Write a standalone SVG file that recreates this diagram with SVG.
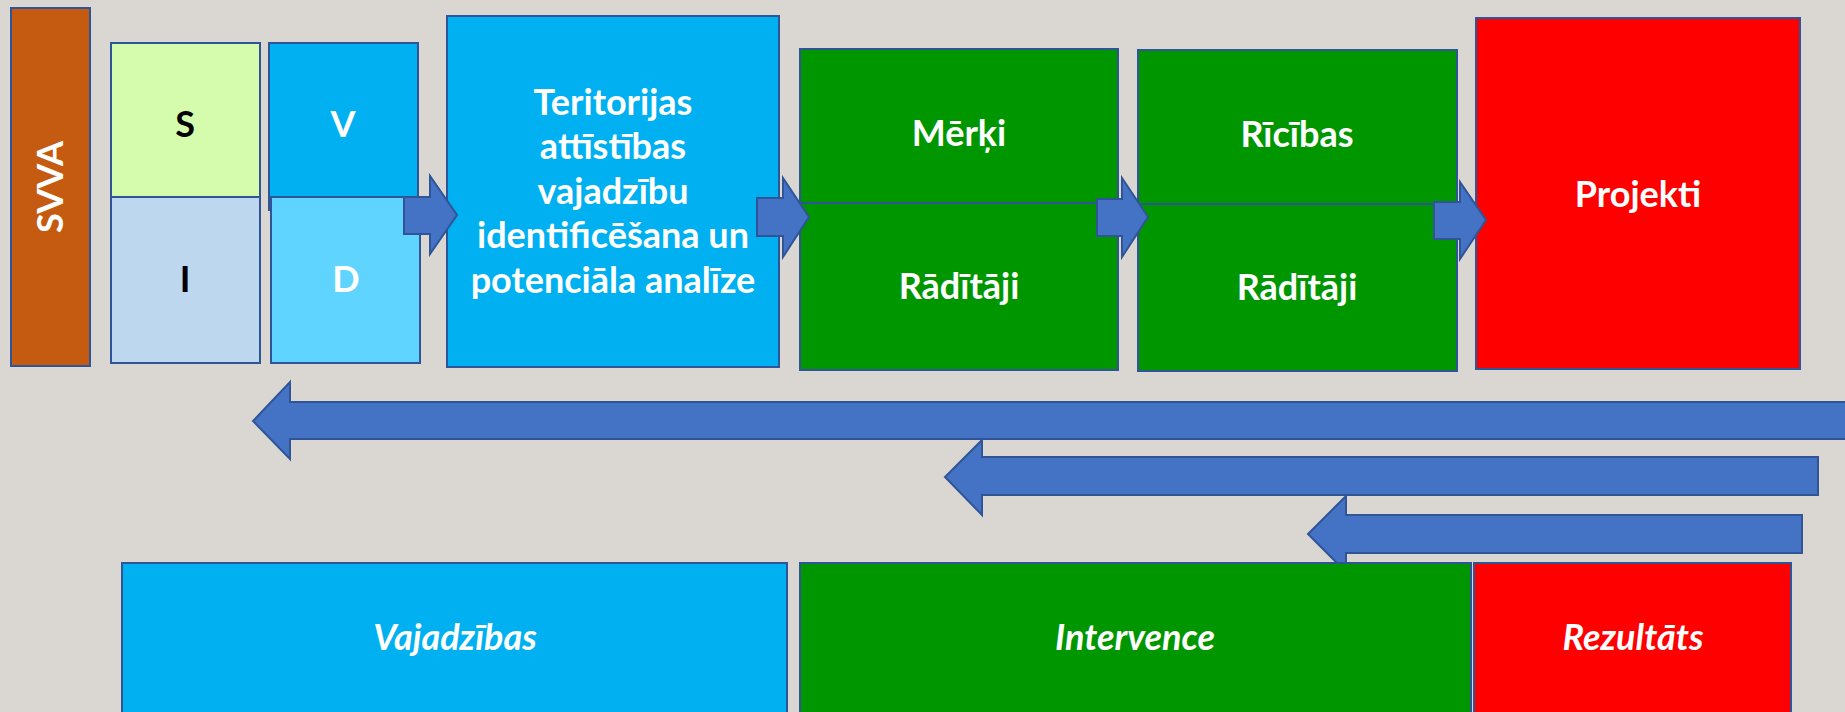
<svg xmlns="http://www.w3.org/2000/svg" width="1845" height="712" viewBox="0 0 1845 712">
<style>
.box{stroke:#2f5597;stroke-width:2}
.t{font-family:Lato,"Open Sans","Liberation Sans",sans-serif;font-weight:bold;font-size:36px;text-anchor:middle;fill:#ffffff}
.k{fill:#000000}
.it{font-style:italic}
.arr{fill:#4472c4;stroke:#2f5597;stroke-width:2;stroke-linejoin:miter}
</style>
<rect x="0" y="0" width="1845" height="712" fill="#dad7d2"/>
<g id="svva">
<rect class="box" x="11" y="8" width="79" height="358" fill="#c55a11"/>
<text class="t" transform="translate(63,187) rotate(-90)">SVVA</text>
</g>
<g id="s">
<rect class="box" x="111" y="43" width="149" height="154" fill="#d4fcac"/>
<text class="t k" x="185" y="137">S</text>
</g>
<g id="i">
<rect class="box" x="111" y="197" width="149" height="166" fill="#bdd7ee"/>
<text class="t k" x="185" y="292">I</text>
</g>
<g id="v">
<rect class="box" x="269" y="43" width="149" height="167" fill="#00b0f0"/>
<text class="t" x="343" y="137">V</text>
</g>
<g id="d">
<rect class="box" x="271" y="197" width="149" height="166" fill="#5fd4ff"/>
<text class="t" x="346" y="292">D</text>
</g>
<g id="teritorijas">
<rect class="box" x="447" y="16" width="332" height="351" fill="#00b0f0"/>
<text class="t" x="613" y="115">Teritorijas</text>
<text class="t" x="613" y="159">attīstības</text>
<text class="t" x="613" y="204">vajadzību</text>
<text class="t" x="613" y="248">identificēšana un</text>
<text class="t" x="613" y="293">potenciāla analīze</text>
</g>
<g id="merki">
<rect class="box" x="800" y="49" width="318" height="154" fill="#009600"/>
<text class="t" x="959" y="146">Mērķi</text>
</g>
<g id="raditaji1">
<rect class="box" x="800" y="203" width="318" height="167" fill="#009600"/>
<text class="t" x="959" y="299">Rādītāji</text>
</g>
<g id="ricibas">
<rect class="box" x="1138" y="50" width="319" height="154" fill="#009600"/>
<text class="t" x="1297" y="147">Rīcības</text>
</g>
<g id="raditaji2">
<rect class="box" x="1138" y="204" width="319" height="167" fill="#009600"/>
<text class="t" x="1297" y="300">Rādītāji</text>
</g>
<g id="projekti">
<rect class="box" x="1476" y="18" width="324" height="351" fill="#ff0000"/>
<text class="t" x="1638" y="207">Projekti</text>
</g>
<g id="connectors">
<polygon class="arr" points="404,197 430,197 430,176 457,215 430,254 430,234 404,234"/>
<polygon class="arr" points="757,198 783,198 783,178 809,217 783,257 783,236 757,236"/>
<polygon class="arr" points="1097,199 1122,199 1122,178 1148,217 1122,257 1122,236 1097,236"/>
<polygon class="arr" points="1434,202 1460,202 1460,182 1486,220 1460,259 1460,239 1434,239"/>
<polygon class="arr" points="1852,402 290,402 290,382 253,421 290,459 290,439 1852,439"/>
<polygon class="arr" points="1818,457 982,457 982,440 945,477 982,515 982,495 1818,495"/>
<polygon class="arr" points="1802,515 1346,515 1346,496 1308,534 1346,572 1346,553 1802,553"/>
</g>
<g id="vajadzibas">
<rect class="box" x="122" y="563" width="665" height="160" fill="#00b0f0"/>
<text class="t it" x="455" y="650">Vajadzības</text>
</g>
<g id="intervence">
<rect class="box" x="800" y="563" width="671" height="160" fill="#009600"/>
<text class="t it" x="1135" y="650">Intervence</text>
</g>
<g id="rezultats">
<rect class="box" x="1474" y="563" width="317" height="160" fill="#ff0000"/>
<text class="t it" x="1633" y="650">Rezultāts</text>
</g>
</svg>
